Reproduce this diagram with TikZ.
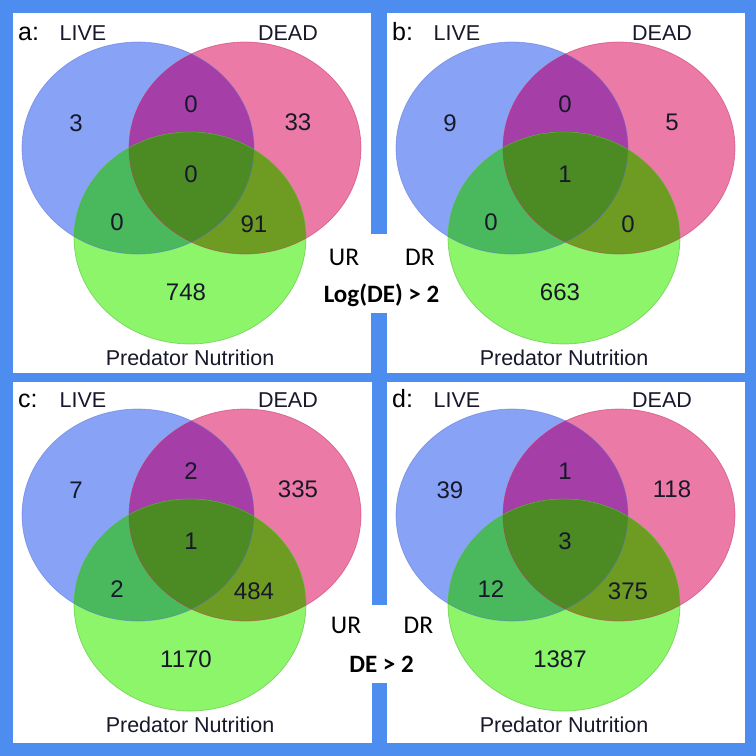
\documentclass[tikz,border=0pt]{standalone}
\usepackage{fontspec}
\setmainfont{Liberation Sans}
\newfontfamily\calibri{Carlito}
\usepackage{xcolor}
\definecolor{Frame}{HTML}{4D8DF0}
\definecolor{Ink}{HTML}{17182A}
\definecolor{VBlue}{HTML}{88A3F6}
\definecolor{VRed}{HTML}{EC7AA6}
\definecolor{VGreen}{HTML}{8CF56A}
\definecolor{VBlueRed}{HTML}{A63EA8}
\definecolor{VBlueGreen}{HTML}{4AB85C}
\definecolor{VRedGreen}{HTML}{6E9C22}
\definecolor{VAll}{HTML}{4C8A24}
\definecolor{EdgeBlue}{HTML}{5F73D7}
\definecolor{EdgeRed}{HTML}{C83264}
\definecolor{EdgeGreen}{HTML}{4FB632}
\usepackage{tikz}

% one three-set diagram, origin at the centre of the LIVE set
\newcommand{\vennpanel}[8]{%
  \fill[VBlue] (0,0) ellipse [oval];
  \fill[VRed] (107,0) ellipse [oval];
  \begin{scope}
    \clip (0,0) ellipse [oval];
    \fill[VBlueRed] (107,0) ellipse [oval];
  \end{scope}
  \fill[VGreen] (52,90) ellipse [oval];
  \begin{scope}
    \clip (52,90) ellipse [oval];
    \fill[VBlueGreen] (0,0) ellipse [oval];
    \fill[VRedGreen] (107,0) ellipse [oval];
    \clip (0,0) ellipse [oval];
    \fill[VAll] (107,0) ellipse [oval];
  \end{scope}
  \draw[rim,EdgeBlue] (0,0) ellipse [oval];
  \draw[rim,EdgeRed] (107,0) ellipse [oval];
  \draw[rim,EdgeGreen] (52,90) ellipse [oval];
  \node[letter] (#1-tag) at (-120,-108) {#1:};
  \node[setname] (#1-live) at (-55,-115) {LIVE};
  \node[setname] (#1-dead) at (150,-115) {DEAD};
  \node[setname] (#1-pred) at (52,210) {Predator Nutrition};
  \node[count] (#1-l) at (-62,-25) {#2};
  \node[count] (#1-ld) at (53,-44) {#3};
  \node[count] (#1-d) at (160,-26) {#4};
  \node[count] (#1-ldp) at (53,26) {#5};
  \node[count] (#1-lp) at (-21,74) {#6};
  \node[count] (#1-dp) at (116,76) {#7};
  \node[count] (#1-p) at (48,144) {#8};
}

\begin{document}
\begin{tikzpicture}[
  x=1pt,y=-1pt,
  oval/.style={x radius=116pt,y radius=106pt},
  rim/.style={line width=0.7pt,draw opacity=0.55},
  setname/.style={font=\fontsize{21.5}{24}\selectfont,inner sep=0pt,text=Ink},
  count/.style={font=\fontsize{24}{26}\selectfont,inner sep=0pt,text=Ink},
  letter/.style={font=\fontsize{25}{27}\selectfont,inner sep=0pt,anchor=base west},
  tag/.style={font=\calibri\fontsize{25.5}{27}\selectfont,inner sep=0pt,anchor=base},
  cut/.style={font=\calibri\bfseries\fontsize{25}{27}\selectfont,inner sep=0pt,anchor=base}
]
\useasboundingbox (0,0) rectangle (756,756);
% frame and white panels
\fill[Frame] (0,0) rectangle (756,756);
\fill[white] (13,13) rectangle (371,373);
\fill[white] (387,13) rectangle (745,373);
\fill[white] (370,234) rectangle (388,313);
\fill[white] (13,382) rectangle (372,743);
\fill[white] (387,382) rectangle (745,743);
\fill[white] (371,605) rectangle (388,683);

\begin{scope}[shift={(138,148)}]
  \vennpanel{a}{3}{0}{33}{0}{0}{91}{748}
\end{scope}
\begin{scope}[shift={(512,148)}]
  \vennpanel{b}{9}{0}{5}{1}{0}{0}{663}
\end{scope}
\begin{scope}[shift={(138,515)}]
  \vennpanel{c}{7}{2}{335}{1}{2}{484}{1170}
\end{scope}
\begin{scope}[shift={(512,515)}]
  \vennpanel{d}{39}{1}{118}{3}{12}{375}{1387}
\end{scope}

% thresholds between the panels
\node[tag] (ur-log) at (344,265) {UR};
\node[tag] (dr-log) at (420,265) {DR};
\node[cut] (log) at (381.5,302) {Log(DE) > 2};
\node[tag] (ur-de) at (346,633) {UR};
\node[tag] (dr-de) at (418.5,633) {DR};
\node[cut] (de) at (381.5,672) {DE > 2};
\end{tikzpicture}
\end{document}
